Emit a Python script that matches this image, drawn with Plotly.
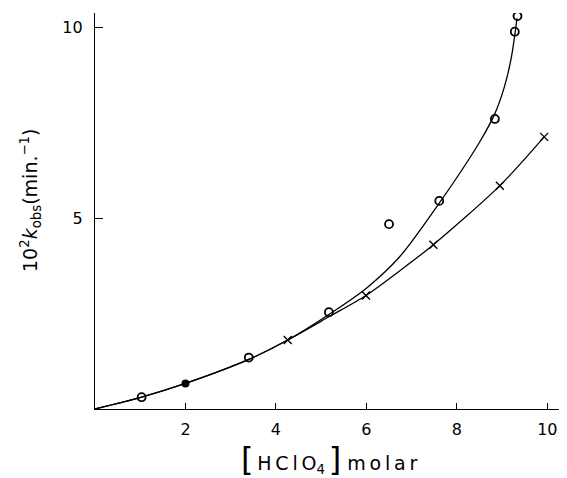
import plotly.graph_objects as go

# Open circles (observed)
circle_x = [1.03, 3.40, 5.17, 6.50, 7.61, 8.84, 9.28, 9.34]
circle_y = [0.31, 1.35, 2.54, 4.85, 5.46, 7.61, 9.90, 10.31]
# Filled point
filled_x = [2.0]
filled_y = [0.67]
# Crosses
cross_x = [4.26, 5.99, 7.48, 8.95, 9.93]
cross_y = [1.81, 2.98, 4.31, 5.86, 7.14]

# Drawn curves
fit_circle_x = [0, 1.03, 2.0, 3.4, 4.26, 5.17, 6.0, 6.74, 7.61, 8.5, 8.84, 9.05, 9.2, 9.33]
fit_circle_y = [0, 0.31, 0.67, 1.3, 1.81, 2.48, 3.17, 4.0, 5.4, 7.0, 7.75, 8.45, 9.2, 10.25]
fit_cross_x = [0, 1.03, 2.0, 3.4, 4.26, 5.17, 5.99, 6.74, 7.48, 8.95, 9.93]
fit_cross_y = [0, 0.31, 0.67, 1.3, 1.81, 2.42, 2.98, 3.63, 4.31, 5.86, 7.14]

x_ticks = [2, 4, 6, 8, 10]
y_ticks = [5, 10]

FONT = "DejaVu Sans"
ts = "\u2009"  # thin space for letter spacing
x_title = ('<span style="font-size:32px">[</span>' + ts + ts.join("HClO") + '<sub>4</sub>' + ts +
           '<span style="font-size:32px">]</span> ' + ts.join("molar"))

fig = go.Figure()
fig.add_trace(go.Scatter(x=fit_circle_x, y=fit_circle_y, mode="lines",
                         line=dict(color="black", width=1.3, shape="spline", smoothing=0.8),
                         hoverinfo="skip"))
fig.add_trace(go.Scatter(x=fit_cross_x, y=fit_cross_y, mode="lines",
                         line=dict(color="black", width=1.3, shape="spline", smoothing=0.8),
                         hoverinfo="skip"))
fig.add_trace(go.Scatter(x=circle_x, y=circle_y, mode="markers",
                         marker=dict(symbol="circle-open", size=8, color="black",
                                     line=dict(width=1.8, color="black"))))
fig.add_trace(go.Scatter(x=filled_x, y=filled_y, mode="markers",
                         marker=dict(symbol="circle", size=8, color="black")))
fig.add_trace(go.Scatter(x=cross_x, y=cross_y, mode="markers",
                         marker=dict(symbol="x-thin", size=8, color="black",
                                     line=dict(width=1.4, color="black"))))

fig.update_layout(
    width=567, height=478,
    margin=dict(l=87, r=10, t=5, b=77),
    paper_bgcolor="white", plot_bgcolor="white",
    showlegend=False,
    font=dict(family=FONT, color="black"),
    xaxis=dict(range=[0, 10.39], showline=True, linecolor="black", linewidth=1.3,
               ticks="inside", tickvals=x_ticks, ticklen=6, tickcolor="black",
               ticklabelstandoff=6,
               showgrid=False, zeroline=False, tickfont=dict(size=16, family=FONT)),
    yaxis=dict(range=[0, 10.39], showline=True, linecolor="black", linewidth=1.3,
               ticks="inside", tickvals=y_ticks, ticklen=8, tickcolor="black",
               ticklabelstandoff=8,
               showgrid=False, zeroline=False, tickfont=dict(size=16, family=FONT)),
    annotations=[
        dict(text=x_title,
             xref="paper", yref="paper", x=0.498, y=-0.126, xanchor="center", yanchor="middle",
             showarrow=False, font=dict(size=19, family=FONT)),
        dict(text='10<sup>2</sup><i>k</i><sub>obs</sub>(min.<sup>−1</sup>)',
             xref="paper", yref="paper", x=-0.136, y=0.528, xanchor="center", yanchor="middle",
             textangle=-90, showarrow=False, font=dict(size=19, family=FONT)),
    ],
)

fig.write_html("out.html")
